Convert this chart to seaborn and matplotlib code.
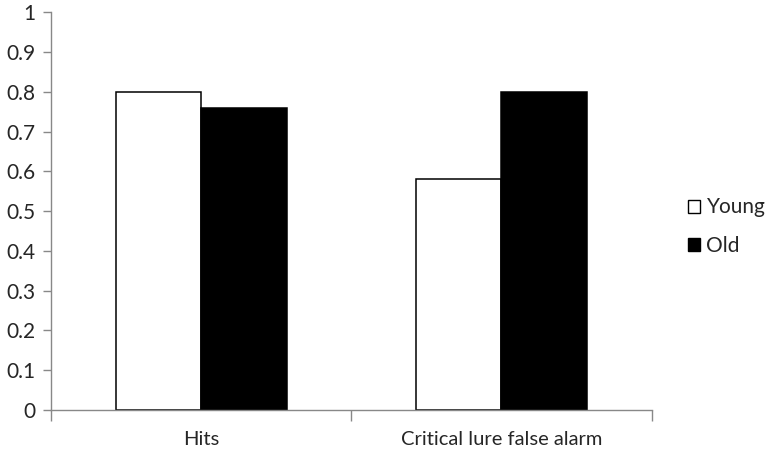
import pandas as pd
import matplotlib
matplotlib.use("Agg")
import matplotlib.pyplot as plt
import seaborn as sns
from matplotlib.patches import Patch

# values
conditions = ["Hits", "Critical lure false alarm"]
groups = ["Young", "Old"]
young_vals = [0.80, 0.58]
old_vals = [0.76, 0.80]
y_ticks = [0, 0.1, 0.2, 0.3, 0.4, 0.5, 0.6, 0.7, 0.8, 0.9, 1]
y_tick_labels = ["0", "0.1", "0.2", "0.3", "0.4", "0.5", "0.6", "0.7", "0.8", "0.9", "1"]

df = pd.DataFrame({
    "Condition": conditions * 2,
    "Group": [groups[0]] * 2 + [groups[1]] * 2,
    "Value": young_vals + old_vals,
})

sns.set_style("white")
plt.rcParams["font.family"] = ["Lato", "DejaVu Sans"]

fig = plt.figure(figsize=(7.65, 4.51), dpi=100)
ax = fig.add_axes([0.0667, 0.0909, 0.785, 0.8818])

sns.barplot(data=df, x="Condition", y="Value", hue="Group",
            order=conditions, hue_order=groups,
            palette=["white", "black"], edgecolor="black", linewidth=1.1,
            width=0.57, gap=0, saturation=1, legend=False, ax=ax)

ax.set_xlim(-0.5, 1.5)
ax.set_ylim(0, 1)
ax.set_yticks(y_ticks)
ax.set_yticklabels(y_tick_labels, fontsize=15)

# category boundaries get tick marks, labels sit in the middle
ax.set_xticks([-0.5, 0.5, 1.5])
ax.set_xticklabels([])
ax.set_xticks([0, 1], minor=True)
ax.set_xticklabels(conditions, minor=True, fontsize=14.5)
ax.tick_params(axis="x", which="major", direction="out", length=8, width=1, color="#888888", bottom=True)
ax.tick_params(axis="x", which="minor", length=0, pad=15)
ax.tick_params(axis="y", direction="out", length=6, width=1, color="#888888", left=True, pad=5)

ax.set_xlabel("")
ax.set_ylabel("")
for side in ["top", "right"]:
    ax.spines[side].set_visible(False)
for side in ["left", "bottom"]:
    ax.spines[side].set_color("#888888")
    ax.spines[side].set_linewidth(1)

handles = [Patch(facecolor="white", edgecolor="black", linewidth=1, label="Young"),
           Patch(facecolor="black", edgecolor="black", linewidth=1, label="Old")]
fig.legend(handles=handles, loc="center left", bbox_to_anchor=(0.899, 0.497),
           frameon=False, fontsize=15, handlelength=0.6, handleheight=0.6,
           handletextpad=0.3, labelspacing=0.9, borderpad=0, borderaxespad=0)

fig.savefig("out.png", dpi=100)
